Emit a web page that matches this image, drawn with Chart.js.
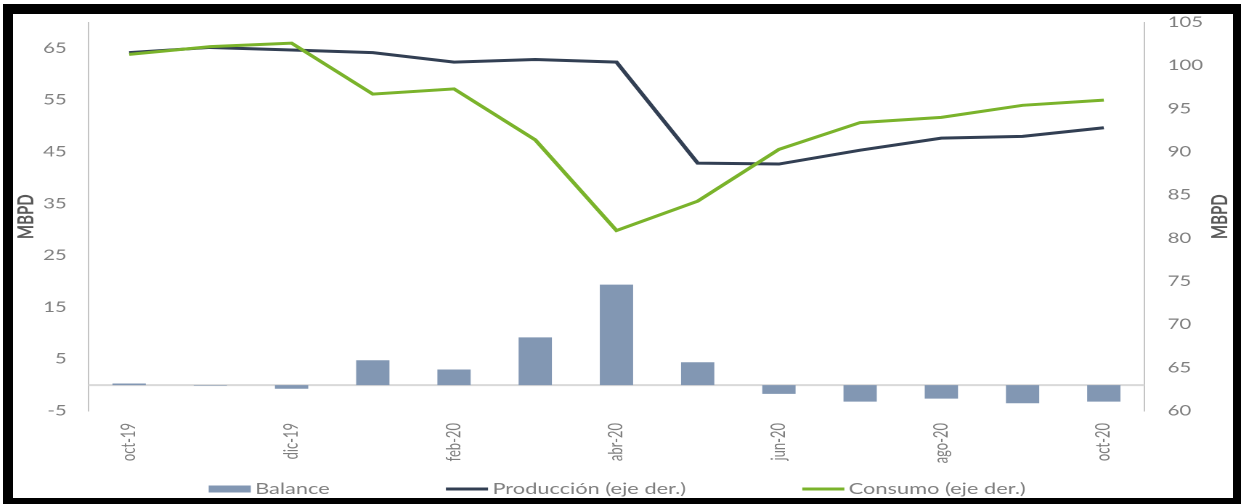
<!DOCTYPE html>
<html lang="es">
<head>
  <meta charset="UTF-8">
  <title>Balance, producción y consumo</title>
  <style>
    html, body { margin: 0; padding: 0; background: #fff; width: 1241px; height: 504px; overflow: hidden; }
    #marco {
      position: absolute; left: 3px; top: 4px;
      border-style: solid; border-color: #000;
      border-width: 10px 8px 6px 10px;
      background: #fff;
    }
    /* el lienzo se dibuja estrecho y se estira a lo ancho */
    #grafico { display: block; width: 1220px; height: 484px; }
  </style>
  <script src="https://cdn.jsdelivr.net/npm/chart.js"></script>
</head>
<body>
  <div id="marco">
    <canvas id="grafico" width="840" height="484" style="width:1220px;height:484px"></canvas>
  </div>
  <script>
    // Datos mensuales (MBPD)
    const meses = ['oct-19', 'nov-19', 'dic-19', 'ene-20', 'feb-20', 'mar-20', 'abr-20',
                   'may-20', 'jun-20', 'jul-20', 'ago-20', 'sep-20', 'oct-20'];
    const balance = [0.3, -0.1, -0.7, 4.8, 3.0, 9.2, 19.4, 4.4, -1.7, -3.2, -2.6, -3.5, -3.2];
    const produccion = [101.5, 102.1, 101.8, 101.5, 100.4, 100.7, 100.4, 88.7, 88.6, 90.2, 91.6, 91.8, 92.8];
    const consumo = [101.3, 102.2, 102.6, 96.7, 97.3, 91.4, 80.9, 84.3, 90.3, 93.4, 94.0, 95.4, 96.0];

    // Marcas de los ejes
    const ticksIzq = [-5, 5, 15, 25, 35, 45, 55, 65];
    const ticksDer = [60, 65, 70, 75, 80, 85, 90, 95, 100, 105];

    const GRIS = '#7f7f7f';
    const FUENTE = 'Lato';

    // Línea del cero del eje izquierdo (detrás de las barras)
    const lineaCero = {
      id: 'lineaCero',
      beforeDatasetsDraw(chart) {
        const {ctx, chartArea} = chart;
        const y = chart.scales.yIzq.getPixelForValue(0);
        ctx.save();
        ctx.strokeStyle = '#d9d9d9';
        ctx.lineWidth = 2;
        ctx.beginPath();
        ctx.moveTo(chartArea.left, y);
        ctx.lineTo(chartArea.right, y);
        ctx.stroke();
        ctx.restore();
      }
    };

    // Título del eje derecho, leído de abajo hacia arriba
    const tituloDer = {
      id: 'tituloDer',
      afterDraw(chart) {
        const {ctx, chartArea} = chart;
        const esc = chart.scales.yDer;
        ctx.save();
        ctx.translate(esc.right - 9, (chartArea.top + chartArea.bottom) / 2);
        ctx.rotate(-Math.PI / 2);
        ctx.font = 'bold 15px ' + FUENTE;
        ctx.fillStyle = '#595959';
        ctx.textAlign = 'center';
        ctx.textBaseline = 'middle';
        ctx.fillText('MBPD', 0, 0);
        ctx.restore();
      }
    };

    // Leyenda inferior con separación amplia entre elementos
    const leyenda = {
      id: 'leyendaInferior',
      afterDraw(chart) {
        const ctx = chart.ctx;
        const muestra = 29, sep = 3, hueco = 80;
        ctx.save();
        ctx.font = '15px ' + FUENTE;
        const items = chart.data.datasets.map(ds => ({
          ds: ds,
          w: muestra + sep + ctx.measureText(ds.label).width
        }));
        const total = items.reduce((s, it) => s + it.w, 0) + hueco * (items.length - 1);
        let x = (chart.width - total) / 2 - 4;
        const y = chart.height - 9;
        items.forEach(it => {
          if (it.ds.type === 'bar') {
            ctx.fillStyle = it.ds.backgroundColor;
            ctx.fillRect(x, y - 3.5, muestra, 7);
          } else {
            ctx.strokeStyle = it.ds.borderColor;
            ctx.lineWidth = 3;
            ctx.beginPath();
            ctx.moveTo(x, y);
            ctx.lineTo(x + muestra, y);
            ctx.stroke();
          }
          ctx.fillStyle = GRIS;
          ctx.textBaseline = 'middle';
          ctx.fillText(it.ds.label, x + muestra + sep, y);
          x += it.w + hueco;
        });
        ctx.restore();
      }
    };

    // Rejilla invisible: solo sirve para separar las etiquetas del eje
    const rejillaY = { display: true, color: 'transparent', drawTicks: true, tickLength: 15 };

    new Chart(document.getElementById('grafico'), {
      data: {
        labels: meses,
        datasets: [
          {
            type: 'bar',
            label: 'Balance',
            data: balance,
            yAxisID: 'yIzq',
            backgroundColor: '#8297b3',
            categoryPercentage: 1,
            barPercentage: 0.41,
            order: 3
          },
          {
            type: 'line',
            label: 'Producción (eje der.)',
            data: produccion,
            yAxisID: 'yDer',
            borderColor: '#323f53',
            backgroundColor: '#323f53',
            borderWidth: 3,
            pointRadius: 0,
            tension: 0,
            order: 2
          },
          {
            type: 'line',
            label: 'Consumo (eje der.)',
            data: consumo,
            yAxisID: 'yDer',
            borderColor: '#7ab32b',
            backgroundColor: '#7ab32b',
            borderWidth: 3,
            pointRadius: 0,
            tension: 0,
            order: 1
          }
        ]
      },
      options: {
        responsive: false,
        devicePixelRatio: 2,
        animation: false,
        layout: { padding: { top: 8, left: 0, right: 0, bottom: 0 } },
        plugins: {
          legend: { display: false },
          tooltip: { enabled: false }
        },
        scales: {
          x: {
            grid: { display: false },
            border: { display: false },
            ticks: {
              color: GRIS,
              font: { family: FUENTE, size: 13 },
              autoSkip: false,
              minRotation: 90,
              maxRotation: 90,
              padding: 4,
              callback: (v, i) => (i % 2 === 0 ? meses[i] : '')
            },
            afterFit: s => { s.height = 87; }
          },
          yIzq: {
            position: 'left',
            min: -5,
            max: 70,
            grid: rejillaY,
            border: { color: '#c4c4c4', width: 1 },
            afterBuildTicks: s => { s.ticks = ticksIzq.map(v => ({ value: v })); },
            ticks: { color: GRIS, font: { family: FUENTE, size: 14 }, padding: 0 },
            title: {
              display: true,
              text: 'MBPD',
              color: '#595959',
              font: { family: FUENTE, size: 15, weight: 'bold' },
              padding: 0
            },
            afterFit: s => { s.width = 52; }
          },
          yDer: {
            position: 'right',
            min: 60,
            max: 105,
            grid: { ...rejillaY, tickLength: 16 },
            border: { color: '#c4c4c4', width: 1 },
            afterBuildTicks: s => { s.ticks = ticksDer.map(v => ({ value: v })); },
            ticks: { color: GRIS, font: { family: FUENTE, size: 14 }, padding: 0 },
            afterFit: s => { s.width = 61; }
          }
        }
      },
      plugins: [lineaCero, tituloDer, leyenda]
    });
  </script>
</body>
</html>
